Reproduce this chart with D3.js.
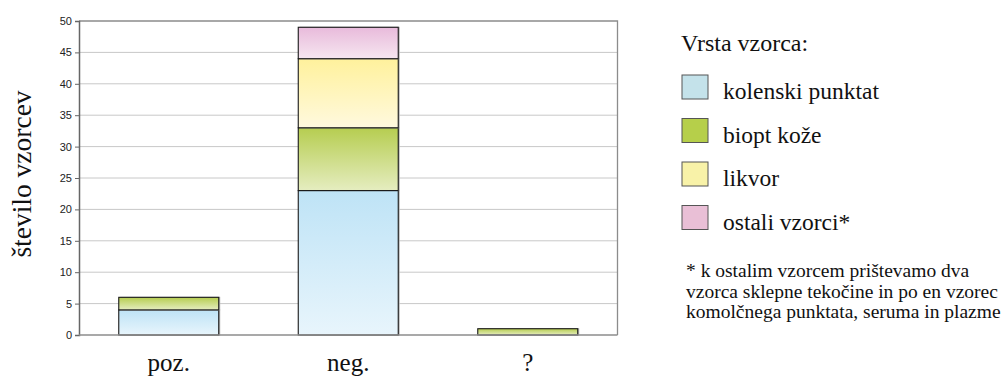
<!DOCTYPE html>
<html>
<head>
<meta charset="utf-8">
<script src="https://cdn.jsdelivr.net/npm/d3@7"></script>
<style>
  html, body { margin: 0; padding: 0; background: #fff; }
  svg { display: block; }
  .serif { font-family: 'Liberation Serif', 'Times New Roman', Times, serif; }
  .sans { font-family: 'Liberation Sans', Arial, Helvetica, sans-serif; }
</style>
</head>
<body>
<svg id="chart" width="1006" height="378"></svg>
<script>
// Sample counts by test result, stacked by sample type
const categories = ["poz.", "neg.", "?"];
const seriesNames = ["kolenski punktat", "biopt kože", "likvor", "ostali vzorci*"];
const kolenskiPunktat = [4, 23, 0];
const bioptKoze = [2, 10, 1];
const likvor = [0, 11, 0];
const ostaliVzorci = [0, 5, 0];
const yTicks = [0, 5, 10, 15, 20, 25, 30, 35, 40, 45, 50];
const yLabel = "število vzorcev";
const legendTitle = "Vrsta vzorca:";
const footnoteLines = [
  "* k ostalim vzorcem prištevamo dva",
  "vzorca sklepne tekočine in po en vzorec",
  "komolčnega punktata, seruma in plazme"
];

const seriesValues = [kolenskiPunktat, bioptKoze, likvor, ostaliVzorci];
// top / bottom gradient stops and legend swatch colour per series
const palette = [
  { top: "#bee3f6", bottom: "#e8f5fc", swatch: "#c4e2ea" },
  { top: "#b6cd50", bottom: "#e5edc0", swatch: "#b6cf4a" },
  { top: "#fff19c", bottom: "#fff9de", swatch: "#f8f2a8" },
  { top: "#e8badb", bottom: "#f6e6f0", swatch: "#e9bfd6" }
];

const svg = d3.select("#chart");
const plotLeft = 79, plotRight = 617.5, plotTop = 21, plotBottom = 335;

const rows = categories.map((c, i) => {
  const r = { cat: c };
  seriesNames.forEach((s, j) => { r[s] = seriesValues[j][i]; });
  return r;
});
const stacked = d3.stack().keys(seriesNames)(rows);

const x = d3.scaleBand().domain(categories).range([plotLeft, plotRight])
  .paddingInner(0.443).paddingOuter(0.2215);
const y = d3.scaleLinear().domain([0, 50]).range([plotBottom, plotTop]);

// gradients
const defs = svg.append("defs");
palette.forEach((p, i) => {
  const g = defs.append("linearGradient").attr("id", "grad" + i)
    .attr("x1", 0).attr("y1", 0).attr("x2", 0).attr("y2", 1);
  g.append("stop").attr("offset", "0%").attr("stop-color", p.top);
  g.append("stop").attr("offset", "100%").attr("stop-color", p.bottom);
});

// horizontal gridlines
svg.append("g").selectAll("line").data(yTicks.filter(t => t > 0 && t < 50)).join("line")
  .attr("x1", plotLeft).attr("x2", plotRight)
  .attr("y1", d => y(d)).attr("y2", d => y(d))
  .attr("stroke", "#c8c8c8").attr("stroke-width", 1);

// plot frame (top and right)
svg.append("path")
  .attr("d", `M${plotLeft},${y(50)}H${plotRight}V${plotBottom}`)
  .attr("fill", "none").attr("stroke", "#8c8c8c").attr("stroke-width", 1.3);

// bars: light shadow then segment
const layer = svg.append("g").selectAll("g").data(stacked).join("g");
layer.selectAll("rect.shadow").data(d => d.filter(s => s[1] > s[0])).join("rect")
  .attr("class", "shadow")
  .attr("x", d => x(d.data.cat) + 1.5)
  .attr("y", d => y(d[1]) - 0.5)
  .attr("width", x.bandwidth())
  .attr("height", d => y(d[0]) - y(d[1]) + 1)
  .attr("fill", "#b8b8b8");
layer.each(function (series, i) {
  d3.select(this).selectAll("rect.seg").data(series.filter(s => s[1] > s[0])).join("rect")
    .attr("class", "seg")
    .attr("x", d => x(d.data.cat))
    .attr("y", d => y(d[1]))
    .attr("width", x.bandwidth())
    .attr("height", d => y(d[0]) - y(d[1]))
    .attr("fill", `url(#grad${i})`)
    .attr("stroke", "#1a1a1a").attr("stroke-width", 1.1);
});

// axes
const yAxis = d3.axisLeft(y).tickValues(yTicks).tickSize(4).tickPadding(3);
const gy = svg.append("g").attr("transform", `translate(${plotLeft},0)`).call(yAxis);
gy.attr("font-family", null).attr("font-size", null);
gy.select(".domain").attr("stroke", "#666").attr("stroke-width", 1.5);
gy.selectAll(".tick line").attr("stroke", "#666");
gy.selectAll(".tick text").attr("class", "sans")
  .style("font-size", "11px").attr("fill", "#222");

svg.append("line").attr("x1", plotLeft).attr("x2", plotRight)
  .attr("y1", plotBottom).attr("y2", plotBottom)
  .attr("stroke", "#8c8c8c").attr("stroke-width", 1.3);

const xAxis = d3.axisBottom(x).tickSize(0).tickPadding(18);
const gx = svg.append("g").attr("transform", `translate(0,${plotBottom})`).call(xAxis);
gx.attr("font-family", null).attr("font-size", null);
gx.select(".domain").remove();
gx.selectAll(".tick text").attr("class", "serif")
  .style("font-size", "25px").attr("fill", "#111");

// y axis title
svg.append("text").attr("class", "serif")
  .attr("transform", `translate(31,174) rotate(-90)`)
  .attr("text-anchor", "middle")
  .style("font-size", "27.5px").attr("fill", "#111")
  .text(yLabel);

// legend
const lg = svg.append("g").attr("class", "serif").attr("fill", "#111");
lg.append("text").attr("x", 681).attr("y", 51).style("font-size", "24px").text(legendTitle);
const items = lg.selectAll("g.item").data(seriesNames).join("g").attr("class", "item")
  .attr("transform", (d, i) => `translate(682,${75 + i * 43.5})`);
items.append("rect").attr("width", 26).attr("height", 24)
  .attr("fill", (d, i) => palette[i].swatch)
  .attr("stroke", "#555").attr("stroke-width", 1);
items.append("text").attr("x", 41).attr("y", 24).style("font-size", "23.5px").text(d => d);

// footnote
lg.append("g").selectAll("text").data(footnoteLines).join("text")
  .attr("x", 686).attr("y", (d, i) => 277 + i * 20.5)
  .style("font-size", "19.5px").text(d => d);
</script>
</body>
</html>
